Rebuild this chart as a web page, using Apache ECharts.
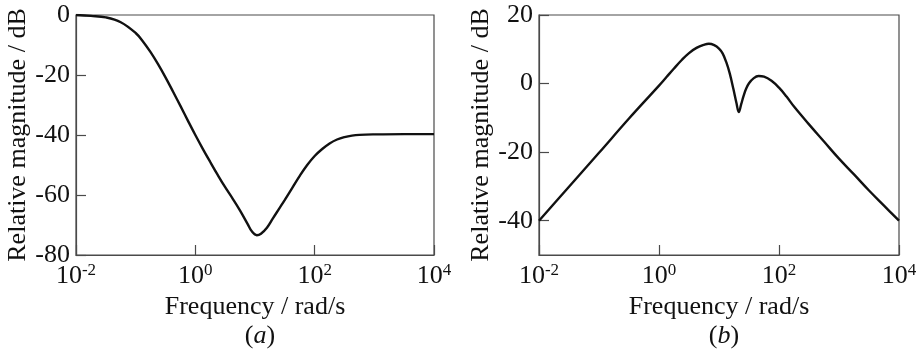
<!DOCTYPE html>
<html>
<head>
<meta charset="utf-8">
<script src="https://cdn.jsdelivr.net/npm/echarts@6.0.0/dist/echarts.min.js"></script>
<style>
  html, body { margin: 0; padding: 0; background: #fff; }
  #chart { width: 920px; height: 350px; }
</style>
</head>
<body>
<div id="chart"></div>
<script>
// frequencies are read off in decades (log10 of rad/s), magnitudes in dB
// (a)
const decadesA = [-2, -1.75, -1.5, -1.25, -1, -0.875, -0.75, -0.625, -0.5, -0.375, -0.25, -0.125, 0, 0.125, 0.25, 0.375, 0.5, 0.625, 0.75, 0.875, 0.95, 1.03, 1.1, 1.2, 1.3, 1.4, 1.5, 1.625, 1.75, 1.875, 2, 2.125, 2.25, 2.375, 2.5, 2.625, 2.75, 3, 3.5, 4]
const magA = [0, -0.3, -0.8, -2.4, -6.0, -8.9, -12.4, -16.4, -20.8, -25.5, -30.3, -35.2, -40, -44.6, -49.0, -53.3, -57.4, -61.2, -65.2, -69.6, -72.2, -73.4, -72.9, -70.9, -67.8, -64.7, -61.6, -57.6, -53.6, -50.0, -47.0, -44.7, -42.8, -41.5, -40.7, -40.2, -39.95, -39.8, -39.7, -39.7]

// (b)
const decadesB = [-2, -1.5, -1, -0.5, 0, 0.125, 0.25, 0.375, 0.5, 0.625, 0.75, 0.83, 0.92, 1, 1.06, 1.12, 1.18, 1.24, 1.29, 1.33, 1.37, 1.41, 1.45, 1.5, 1.58, 1.66, 1.75, 1.875, 2, 2.125, 2.25, 2.5, 2.75, 3, 3.25, 3.5, 3.75, 4]
const magB = [-40, -30.1, -20.2, -10.2, -0.6, 1.9, 4.4, 6.8, 8.9, 10.4, 11.3, 11.6, 11.2, 10.2, 8.8, 6.3, 2.9, -1.6, -5.6, -8.3, -6.0, -3.6, -1.6, 0.1, 1.6, 2.2, 2.0, 0.8, -1.2, -3.8, -6.7, -11.9, -16.9, -21.9, -26.5, -31.2, -35.6, -40]

const freqTicks = [0.01, 1, 100, 10000]
const yTicksA = [-80, -60, -40, -20, 0]
const yTicksB = [-40, -20, 0, 20]

const FONT = '"Liberation Serif", "DejaVu Serif", serif'
const INK = '#111'
const AXIS = '#4a4a4a'

const chart = echarts.init(document.getElementById('chart'))

const pow10Label = v => {
  const e = Math.round(Math.log10(v))
  return '{b|10}{s|' + e + '}'
}

const xAxisFor = gridIndex => ({
  type: 'log',
  logBase: 10,
  gridIndex,
  min: 0.01,
  max: 10000,
  name: 'Frequency / rad/s',
  nameLocation: 'middle',
  nameGap: 34,
  nameTextStyle: { fontFamily: FONT, fontSize: 26, color: INK },
  axisLine: { show: true, onZero: false, lineStyle: { color: AXIS, width: 1.2 } },
  axisTick: { show: true, inside: true, length: 10, customValues: freqTicks, lineStyle: { color: AXIS, width: 1.2 } },
  minorTick: { show: false },
  splitLine: { show: false },
  axisLabel: {
    customValues: freqTicks,
    margin: 7,
    formatter: pow10Label,
    rich: {
      b: { fontFamily: FONT, fontSize: 26, color: INK, lineHeight: 28 },
      s: { fontFamily: FONT, fontSize: 17, color: INK, verticalAlign: 'top', lineHeight: 17 }
    }
  }
})

const yAxisFor = (gridIndex, min, max, ticks) => ({
  type: 'value',
  gridIndex,
  min,
  max,
  name: 'Relative magnitude / dB',
  nameLocation: 'middle',
  nameGap: 44,
  nameTextStyle: { fontFamily: FONT, fontSize: 26, color: INK },
  axisLine: { show: true, onZero: false, lineStyle: { color: AXIS, width: 1.2 } },
  axisTick: { show: true, inside: true, length: 10, customValues: ticks, lineStyle: { color: AXIS, width: 1.2 } },
  splitLine: { show: false },
  axisLabel: {
    customValues: ticks,
    margin: 6,
    fontFamily: FONT,
    fontSize: 26,
    color: INK
  }
})

const lineSeries = (idx, xs, ys) => ({
  type: 'line',
  xAxisIndex: idx,
  yAxisIndex: idx,
  // decades -> rad/s for the log axis
  data: xs.map((d, i) => [Math.pow(10, d), ys[i]]),
  smooth: 0.4,
  symbol: 'none',
  lineStyle: { color: '#111', width: 2.4 }
})

const caption = (letter, x) => ({
  text: '({i|' + letter + '})',
  left: x,
  top: 318,
  textAlign: 'center',
  textStyle: {
    fontFamily: FONT,
    fontSize: 26,
    fontWeight: 'normal',
    color: INK,
    rich: { i: { fontFamily: FONT, fontSize: 26, fontStyle: 'italic', color: INK } }
  }
})

const option = {
  backgroundColor: '#fff',
  animation: false,
  title: [caption('a', 255), caption('b', 719)],
  grid: [
    { left: 76, top: 15, width: 358, height: 240, show: true, borderColor: AXIS, borderWidth: 1.2 },
    { left: 539, top: 15, width: 360, height: 240, show: true, borderColor: AXIS, borderWidth: 1.2 }
  ],
  xAxis: [xAxisFor(0), xAxisFor(1)],
  yAxis: [yAxisFor(0, -80, 0, yTicksA), yAxisFor(1, -50, 20, yTicksB)],
  series: [lineSeries(0, decadesA, magA), lineSeries(1, decadesB, magB)]
}

chart.setOption(option)
</script>
</body>
</html>
